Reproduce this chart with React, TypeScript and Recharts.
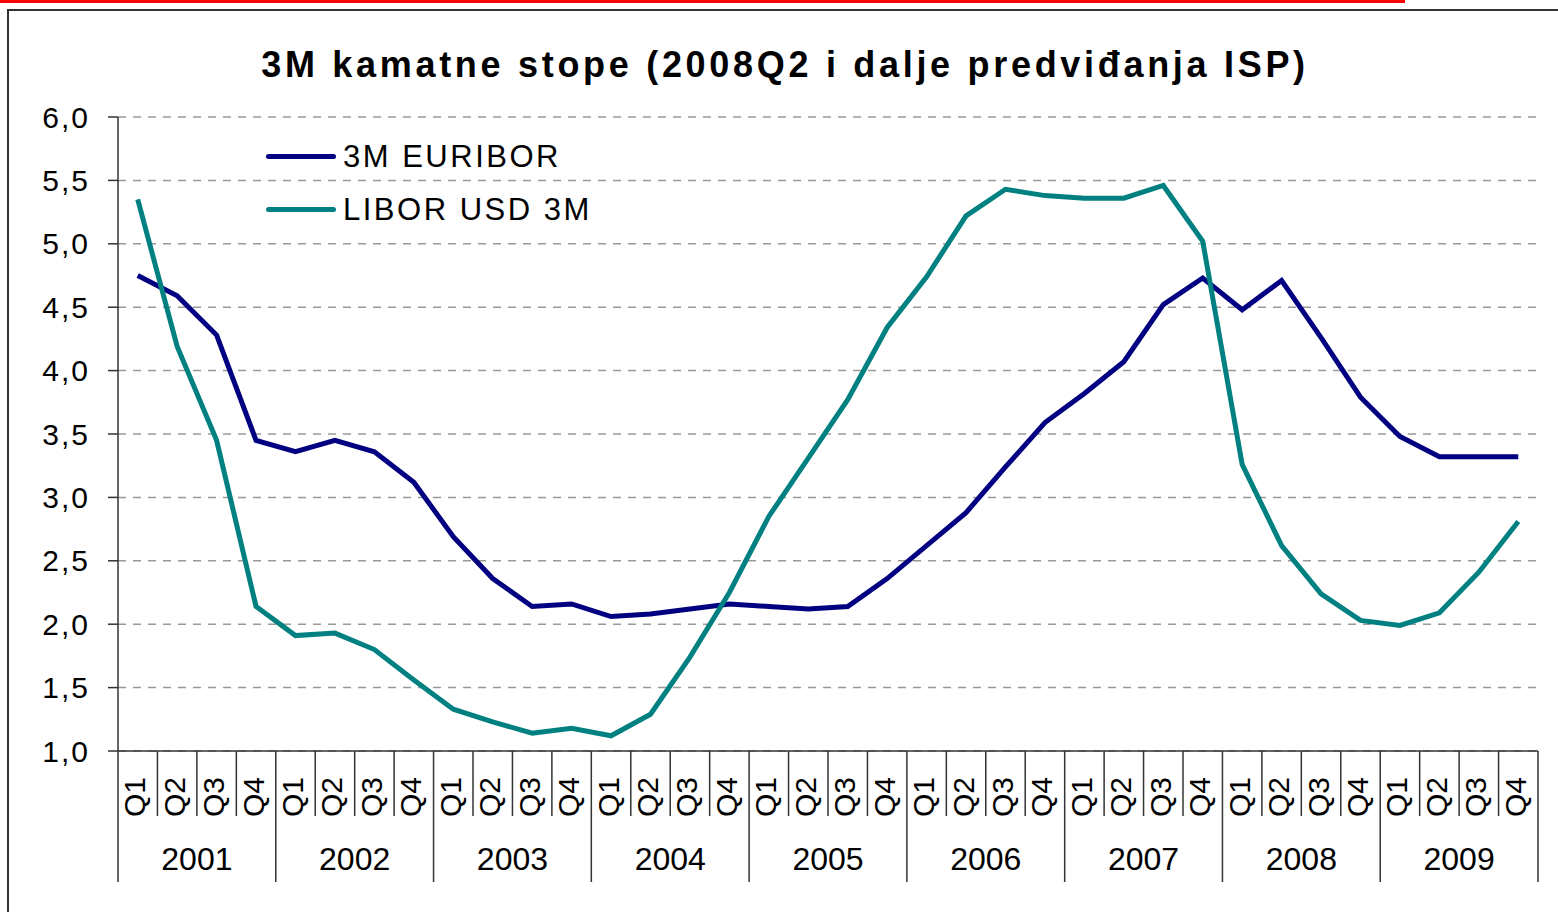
import React from "react";
import { CartesianGrid, Line, LineChart, XAxis, YAxis } from "recharts";

const years = ["2001", "2002", "2003", "2004", "2005", "2006", "2007", "2008", "2009"];
const quarters = ["Q1", "Q2", "Q3", "Q4"];

// quarterly averages, 2001Q1 .. 2009Q4
const euribor = [
  4.75, 4.59, 4.28, 3.45, 3.36, 3.45, 3.36, 3.12, 2.69, 2.36, 2.14, 2.16,
  2.06, 2.08, 2.12, 2.16, 2.14, 2.12, 2.14, 2.36, 2.62, 2.88, 3.24, 3.59,
  3.82, 4.07, 4.52, 4.73, 4.48, 4.71, 4.26, 3.79, 3.48, 3.32, 3.32, 3.32,
];
const liborUsd = [
  5.35, 4.19, 3.45, 2.14, 1.91, 1.93, 1.8, 1.56, 1.33, 1.23, 1.14, 1.18,
  1.12, 1.29, 1.74, 2.25, 2.85, 3.31, 3.77, 4.34, 4.74, 5.22, 5.43, 5.38,
  5.36, 5.36, 5.46, 5.02, 3.26, 2.62, 2.24, 2.03, 1.99, 2.09, 2.41, 2.81,
];
const yTicks = [1, 1.5, 2, 2.5, 3, 3.5, 4, 4.5, 5, 5.5, 6];

const data = euribor.map((v, i) => ({
  key: i,
  q: quarters[i % 4],
  year: years[Math.floor(i / 4)],
  euribor: v,
  libor: liborUsd[i],
}));

const W = 1558;
const H = 912;
const MARGIN = { top: 117, right: 20, left: 0, bottom: 0 };
const Y_W = 118;
const X_H = 161;
const BAND = (W - MARGIN.right - Y_W) / data.length;
const FONT = "'Liberation Sans', Arial, sans-serif";
const AXIS = "#333";

// eslint-disable-next-line @typescript-eslint/no-explicit-any
function QuarterTick({ x, y, index, payload }: any) {
  const row = data[index];
  const half = BAND / 2;
  const isQ1 = row.q === "Q1";
  return (
    <g>
      <line x1={x - half} x2={x - half} y1={y} y2={y + (isQ1 ? 131 : 65)} stroke={AXIS} strokeWidth={1.5} />
      {index === data.length - 1 && (
        <line x1={x + half} x2={x + half} y1={y} y2={y + 131} stroke={AXIS} strokeWidth={1.5} />
      )}
      <text
        x={x - 3}
        y={y + 46}
        transform={`rotate(-90, ${x - 3}, ${y + 46})`}
        textAnchor="middle"
        dominantBaseline="central"
        fontSize={30}
        fontFamily={FONT}
        fill="#000"
      >
        {payload.value}
      </text>
      {row.q === "Q2" && (
        <text x={x + half} y={y + 119} textAnchor="middle" fontSize={32} fontFamily={FONT} fill="#000">
          {row.year}
        </text>
      )}
    </g>
  );
}

const legendItems = [
  { label: "3M EURIBOR", color: "#000080" },
  { label: "LIBOR USD 3M", color: "#008080" },
];

export default function App() {
  return (
    <div style={{ position: "absolute", left: 0, top: 0, width: W, height: H, background: "#fff", overflow: "hidden" }}>
      {/* red rule and frame */}
      <div style={{ position: "absolute", left: 0, top: 0, width: 1405, height: 3, background: "#ff0000" }} />
      <div style={{ position: "absolute", left: 7, top: 9, width: W, height: H, borderLeft: "2px solid #333", borderTop: "2px solid #333" }} />

      <div
        style={{
          position: "absolute",
          left: 0,
          width: 1570,
          top: 44,
          textAlign: "center",
          fontFamily: FONT,
          fontWeight: "bold",
          fontSize: 36,
          letterSpacing: 3.7,
          whiteSpace: "nowrap",
          color: "#000",
        }}
      >
        3M kamatne stope (2008Q2 i dalje predviđanja ISP)
      </div>

      <div style={{ position: "absolute", left: 0, top: 0 }}>
        <LineChart width={W} height={H} data={data} margin={MARGIN}>
          <CartesianGrid horizontal vertical={false} stroke="#999" strokeDasharray="8 7" strokeWidth={1.5} />
          <XAxis
            dataKey="q"
            interval={0}
            height={X_H}
            padding={{ left: BAND / 2, right: BAND / 2 }}
            tickLine={false}
            tickSize={0}
            tickMargin={0}
            tick={<QuarterTick />}
            axisLine={{ stroke: AXIS, strokeWidth: 1.5 }}
          />
          <YAxis
            domain={[1, 6]}
            ticks={yTicks}
            width={Y_W}
            tickSize={10}
            tickMargin={18}
            tickFormatter={(v: number) => v.toFixed(1).replace(".", ",")}
            tick={{ fontSize: 30, fill: "#000", fontFamily: FONT, letterSpacing: 2 }}
            tickLine={{ stroke: AXIS, strokeWidth: 1.5 }}
            axisLine={{ stroke: AXIS, strokeWidth: 1.5 }}
          />
          <Line
            type="linear"
            dataKey="euribor"
            name="3M EURIBOR"
            stroke="#000080"
            strokeWidth={5}
            dot={false}
            isAnimationActive={false}
          />
          <Line
            type="linear"
            dataKey="libor"
            name="LIBOR USD 3M"
            stroke="#008080"
            strokeWidth={5}
            dot={false}
            isAnimationActive={false}
          />
        </LineChart>
      </div>

      {/* legend */}
      <div style={{ position: "absolute", left: 266, top: 130, fontFamily: FONT }}>
        {legendItems.map((it) => (
          <div key={it.label} style={{ display: "flex", alignItems: "center", height: 53 }}>
            <span style={{ display: "inline-block", width: 70, height: 5, background: it.color, borderRadius: 2.5 }} />
            <span style={{ marginLeft: 7, fontSize: 31, letterSpacing: 2.5, color: "#000" }}>{it.label}</span>
          </div>
        ))}
      </div>
    </div>
  );
}
